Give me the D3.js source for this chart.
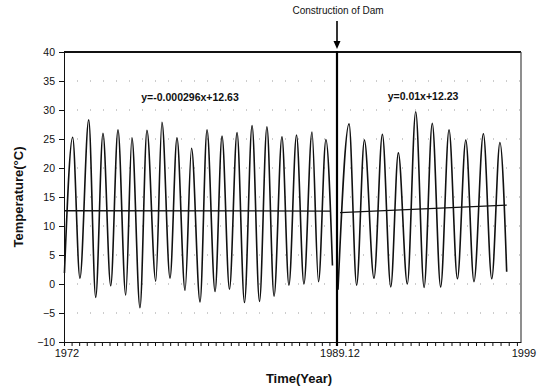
<!DOCTYPE html>
<html>
<head>
<meta charset="utf-8">
<script src="https://cdn.jsdelivr.net/npm/d3@7"></script>
<style>
  body { margin: 0; background: #fff; }
  svg { display: block; font-family: "Liberation Sans", Arial, sans-serif; }
</style>
</head>
<body>
<div id="container"></div>
<script>
(function(){

    // ---- data (turning points of the monthly series) ----
    const beforeYears = [1972.03, 1972.57, 1973.05, 1973.63, 1974.09, 1974.57, 1975.08, 1975.56,
        1976.07, 1976.48, 1977.01, 1977.47, 1978.05, 1978.46, 1978.99, 1979.45, 1979.98,
        1980.41, 1980.97, 1981.43, 1981.96, 1982.42, 1982.91, 1983.41, 1983.90, 1984.40,
        1984.89, 1985.38, 1985.85, 1986.37, 1986.83, 1987.33, 1987.82, 1988.35, 1988.78,
        1989.27, 1989.70];
    const beforeTemps = [1.9, 25.3, 1.0, 28.3, -2.3, 26.0, -0.3, 26.6,
        -1.9, 25.2, -4.1, 26.5, 0.5, 27.9, 1.0, 25.2, -1.1,
        23.4, -3.1, 26.6, -1.3, 25.5, -0.9, 26.1, -3.2, 27.3,
        -3.0, 27.1, -2.1, 25.4, -0.2, 25.7, 0.0, 26.2, 0.4,
        24.9, 3.2];

    const afterYears = [1990.05, 1990.59, 1990.96, 1991.34, 1991.81, 1992.22, 1992.63, 1993.00,
        1993.44, 1993.85, 1994.26, 1994.66, 1995.07, 1995.48, 1995.89, 1996.30, 1996.70,
        1997.16, 1997.57, 1997.97, 1998.30];
    const afterTemps = [-1.0, 27.6, -0.2, 24.8, 1.0, 25.8, -0.5, 22.6,
        0.0, 29.7, -0.6, 27.7, -0.5, 26.6, 0.9, 24.8, 0.4,
        25.9, 0.9, 24.4, 2.1];

    // regression lines as drawn
    const trendBeforeYears = [1972.0, 1989.54];
    const trendBeforeTemps = [12.63, 12.58];
    const trendAfterYears = [1990.15, 1998.30];
    const trendAfterTemps = [12.30, 13.60];

    const tempTicks = [-10, -5, 0, 5, 10, 15, 20, 25, 30, 35, 40];
    const yearTicks = [1972, 1990, 1999];
    const yearTickLabels = ["1972", "1989.12", "1999"];
    const damYear = 1990;

    const equationBefore = "y=-0.000296x+12.63";
    const equationAfter = "y=0.01x+12.23";

    // ---- layout ----
    const width = 540, height = 390;
    const margin = {top: 52, right: 19, bottom: 48, left: 64};

    const x = d3.scaleLinear()
        .domain([1972, damYear, 1999])
        .range([margin.left, 337, width - margin.right]);
    const y = d3.scaleLinear()
        .domain([-10, 40])
        .range([height - margin.bottom, margin.top]);

    const svg = d3.select("#container").append("svg")
        .attr("width", width)
        .attr("height", height);

    svg.append("rect").attr("width", width).attr("height", height).attr("fill", "#fff");

    // dotted grid
    svg.append("g")
        .selectAll("line")
        .data(tempTicks.filter(t => t > -10 && t < 40))
        .join("line")
        .attr("x1", x(1972)).attr("x2", x(1999))
        .attr("y1", d => y(d)).attr("y2", d => y(d))
        .attr("stroke", "#999")
        .attr("stroke-width", 1)
        .attr("stroke-dasharray", "1 12");

    // series
    const line = d3.line()
        .x(d => x(d[0]))
        .y(d => y(d[1]))
        .curve(d3.curveMonotoneX);

    const series = [
        d3.zip(beforeYears, beforeTemps),
        d3.zip(afterYears, afterTemps)
    ];
    svg.append("g")
        .selectAll("path")
        .data(series)
        .join("path")
        .attr("d", line)
        .attr("fill", "none")
        .attr("stroke", "#111")
        .attr("stroke-width", 1.6)
        .attr("stroke-linejoin", "round");

    const trends = [
        d3.zip(trendBeforeYears, trendBeforeTemps),
        d3.zip(trendAfterYears, trendAfterTemps)
    ];
    svg.append("g")
        .selectAll("path")
        .data(trends)
        .join("path")
        .attr("d", d3.line().x(d => x(d[0])).y(d => y(d[1])))
        .attr("fill", "none")
        .attr("stroke", "#111")
        .attr("stroke-width", 1.3);

    // y axis
    const yAxis = svg.append("g")
        .attr("transform", `translate(${margin.left},0)`)
        .call(d3.axisLeft(y).tickValues(tempTicks).tickSize(5).tickPadding(4).tickSizeOuter(0));
    yAxis.selectAll("text").attr("font-size", 10.5).attr("fill", "#111")
        .attr("font-family", "Liberation Sans, Arial, sans-serif");
    yAxis.selectAll("line, path").attr("stroke", "#111");

    // x axis: minor ticks + labels
    const minorTicks = d3.range(1972, damYear, 0.5).concat(d3.range(damYear, 1999.001, 0.4));
    const xAxis = svg.append("g")
        .attr("transform", `translate(0,${y(-10)})`)
        .call(d3.axisBottom(x).tickValues(minorTicks).tickSize(4).tickSizeOuter(0).tickFormat(""));
    xAxis.selectAll("line, path").attr("stroke", "#111");

    svg.append("g")
        .selectAll("text")
        .data(yearTicks)
        .join("text")
        .attr("x", d => x(d) + 3)
        .attr("y", y(-10) + 15)
        .attr("text-anchor", "middle")
        .attr("font-size", 11)
        .attr("fill", "#111")
        .text((d, i) => yearTickLabels[i]);

    // frame: top and right
    svg.append("line")
        .attr("x1", x(1972)).attr("x2", x(1999))
        .attr("y1", y(40)).attr("y2", y(40))
        .attr("stroke", "#111").attr("stroke-width", 2);
    svg.append("line")
        .attr("x1", x(1999)).attr("x2", x(1999))
        .attr("y1", y(40)).attr("y2", y(-10))
        .attr("stroke", "#444").attr("stroke-width", 1.2);

    // dam
    svg.append("line")
        .attr("x1", x(damYear)).attr("x2", x(damYear))
        .attr("y1", y(40) - 1).attr("y2", y(-10) + 4)
        .attr("stroke", "#000").attr("stroke-width", 2.2);

    svg.append("line")
        .attr("x1", x(damYear)).attr("x2", x(damYear))
        .attr("y1", 21).attr("y2", 43)
        .attr("stroke", "#000").attr("stroke-width", 1.6);
    svg.append("path")
        .attr("d", `M${x(damYear) - 3.5},41 L${x(damYear) + 3.5},41 L${x(damYear)},49 Z`)
        .attr("fill", "#000");

    svg.append("text")
        .attr("x", x(damYear) + 1)
        .attr("y", 14)
        .attr("text-anchor", "middle")
        .attr("font-size", 10)
        .attr("fill", "#111")
        .text("Construction of Dam");

    // regression equations
    svg.append("text")
        .attr("x", 190)
        .attr("y", 101)
        .attr("text-anchor", "middle")
        .attr("font-size", 10.5)
        .attr("font-weight", "bold")
        .attr("fill", "#111")
        .text(equationBefore);
    svg.append("text")
        .attr("x", 423)
        .attr("y", 100)
        .attr("text-anchor", "middle")
        .attr("font-size", 10.5)
        .attr("font-weight", "bold")
        .attr("fill", "#111")
        .text(equationAfter);

    // axis titles
    svg.append("text")
        .attr("transform", `translate(23,${(y(40) + y(-10)) / 2}) rotate(-90)`)
        .attr("text-anchor", "middle")
        .attr("font-size", 13)
        .attr("font-weight", "bold")
        .attr("fill", "#111")
        .text("Temperature(°C)");
    svg.append("text")
        .attr("x", 299)
        .attr("y", 383)
        .attr("text-anchor", "middle")
        .attr("font-size", 13)
        .attr("font-weight", "bold")
        .attr("fill", "#111")
        .text("Time(Year)");

})();
</script>
</body>
</html>
